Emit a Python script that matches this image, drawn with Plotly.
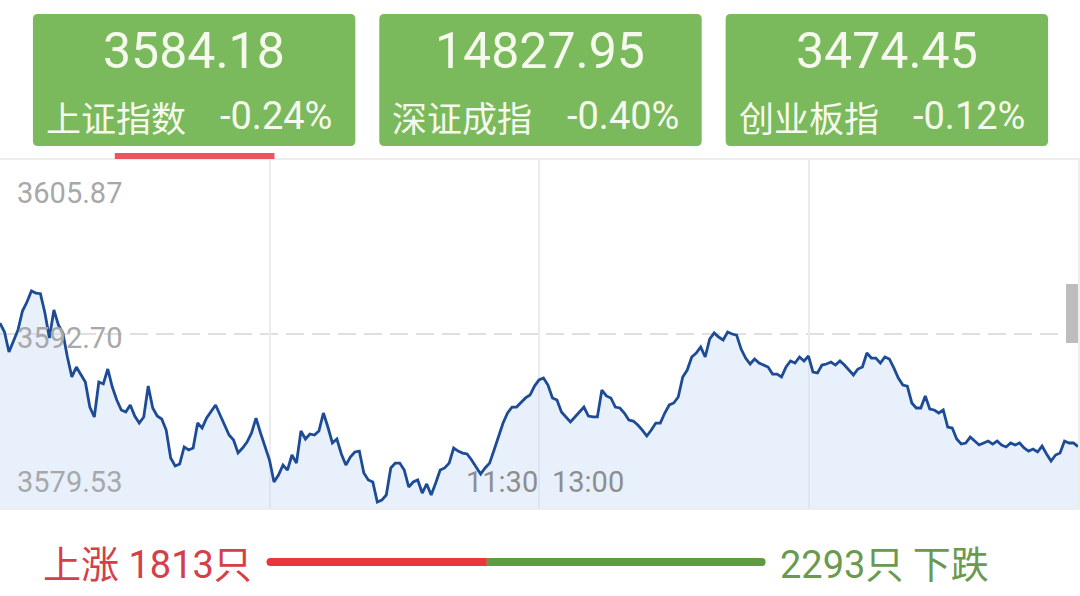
import plotly.graph_objects as go

W, H = 1080, 596

# ---------------- data ----------------
minutes = list(range(241))  # trading minutes from 09:30
prices = [
    3593.53, 3592.85, 3591.34, 3592.17, 3593.00, 3594.44, 3595.12, 3595.96, 3595.80, 3595.75,
    3594.29, 3592.40, 3594.52, 3593.38, 3592.78, 3590.96, 3589.45, 3590.20, 3589.60, 3589.07,
    3587.17, 3586.42, 3589.07, 3588.92, 3590.05, 3588.69, 3587.70, 3586.95, 3586.80, 3587.33,
    3586.49, 3585.96, 3586.42, 3588.76, 3587.10, 3586.49, 3586.27, 3585.43, 3583.31, 3582.71,
    3582.86, 3584.15, 3583.92, 3584.07, 3585.96, 3585.58, 3586.34, 3586.80, 3587.33, 3586.57,
    3585.81, 3585.05, 3584.68, 3583.70, 3584.07, 3584.52, 3585.21, 3586.34, 3585.21, 3584.15,
    3583.16, 3581.50, 3582.03, 3582.78, 3582.40, 3583.54, 3582.93, 3585.36, 3584.75, 3585.13,
    3585.05, 3585.36, 3586.72, 3585.66, 3584.45, 3584.75, 3583.62, 3582.78, 3583.39, 3583.77,
    3583.84, 3582.18, 3581.65, 3581.50, 3579.98, 3580.13, 3580.51, 3582.56, 3582.93, 3582.93,
    3582.40, 3581.12, 3581.50, 3581.65, 3580.66, 3581.35, 3580.51, 3581.42, 3582.40, 3582.56,
    3582.93, 3584.07, 3583.84, 3583.69, 3583.62, 3583.16, 3582.63, 3582.10, 3582.56, 3582.93,
    3583.92, 3584.90, 3585.96, 3586.72, 3587.17, 3587.17, 3587.55, 3587.86, 3588.08, 3588.76,
    3589.22, 3589.37, 3588.84, 3587.86, 3587.70, 3586.80, 3586.42, 3586.04, 3586.42, 3586.80,
    3587.17, 3586.49, 3586.42, 3586.42, 3588.46, 3588.01, 3587.86, 3587.17, 3587.10, 3586.72,
    3586.19, 3586.11, 3585.81, 3585.43, 3584.98, 3585.43, 3585.96, 3585.96, 3586.72, 3587.33,
    3587.48, 3587.93, 3589.45, 3589.97, 3590.96, 3591.26, 3591.72, 3590.96, 3592.32, 3592.78,
    3592.47, 3592.25, 3592.85, 3592.70, 3592.62, 3591.56, 3590.88, 3590.43, 3590.81, 3590.50,
    3590.35, 3590.20, 3589.67, 3589.67, 3589.45, 3590.20, 3590.66, 3590.50, 3590.96, 3590.66,
    3591.03, 3589.82, 3589.75, 3590.35, 3590.43, 3590.58, 3590.35, 3590.66, 3590.35, 3589.97,
    3589.60, 3590.05, 3590.20, 3591.26, 3590.88, 3590.88, 3590.50, 3590.96, 3590.81, 3590.13,
    3589.37, 3588.84, 3588.76, 3587.48, 3587.10, 3587.10, 3588.01, 3587.02, 3586.95, 3586.72,
    3586.95, 3585.66, 3585.58, 3584.75, 3584.37, 3584.45, 3584.90, 3584.60, 3584.30, 3584.45,
    3584.60, 3584.37, 3584.60, 3584.30, 3584.15, 3584.45, 3584.30, 3584.45, 3584.07, 3583.84,
    3583.99, 3583.77, 3584.22, 3583.62, 3583.09, 3583.54, 3583.69, 3584.60, 3584.45, 3584.45,
    3584.18,
]
prev_close = 3592.70
y_ticks = [3605.87, 3592.70, 3579.53]
y_tick_labels = ["3605.87", "3592.70", "3579.53"]
grid_minutes = [60, 120, 180]
break_minute = 120
time_labels = ["11:30", "13:00"]

index_names = ["上证指数", "深证成指", "创业板指"]
index_values = ["3584.18", "14827.95", "3474.45"]
index_changes = ["-0.24%", "-0.40%", "-0.12%"]

up_count = 1813
down_count = 2293

# ---------------- helpers (pixel -> paper) ----------------
def px(x):
    return x / W

def py(y):
    return 1 - y / H

def rrect_path(x0, y0, x1, y1, rl, rr):
    def p(x, y):
        return f"{px(x):.6f},{py(y):.6f}"
    s = f"M {p(x0 + rl, y0)} L {p(x1 - rr, y0)} "
    if rr > 0:
        s += f"Q {p(x1, y0)} {p(x1, y0 + rr)} L {p(x1, y1 - rr)} Q {p(x1, y1)} {p(x1 - rr, y1)} "
    else:
        s += f"L {p(x1, y0)} L {p(x1, y1)} "
    s += f"L {p(x0 + rl, y1)} "
    if rl > 0:
        s += f"Q {p(x0, y1)} {p(x0, y1 - rl)} L {p(x0, y0 + rl)} Q {p(x0, y0)} {p(x0 + rl, y0)} Z"
    else:
        s += f"L {p(x0, y1)} L {p(x0, y0)} Z"
    return s

NUM_FONT = "Roboto, 'Noto Sans CJK SC', sans-serif"
CJK_FONT = "'Noto Sans CJK SC', Roboto, sans-serif"

fig = go.Figure()
fig.add_trace(go.Scatter(
    x=minutes, y=prices, mode="lines",
    line=dict(color="#1d4b95", width=2.8),
    fill="tozeroy", fillcolor="rgba(205,222,248,0.45)",
    hoverinfo="skip", showlegend=False,
))

shapes = []
annotations = []

CH_TOP, CH_BOT = 160, 508

# previous close dashed line
shapes.append(dict(type="line", xref="paper", yref="y", x0=0, x1=1,
                   y0=prev_close, y1=prev_close, layer="below",
                   line=dict(color="#d6d6d6", width=1.5, dash="18px,8px")))

# y labels
y_shifts = [-33, -4, 26]
for v, lab, sh in zip(y_ticks, y_tick_labels, y_shifts):
    annotations.append(dict(xref="paper", yref="y", x=px(15), y=v, xanchor="left",
                            yanchor="middle", yshift=sh, showarrow=False, text=lab,
                            font=dict(family=NUM_FONT, size=29, color="#a8a8a8")))

# time labels at the lunch break
annotations.append(dict(xref="x", yref="paper", x=break_minute, y=py(482), xanchor="right",
                        yanchor="middle", xshift=1, showarrow=False, text=time_labels[0],
                        font=dict(family=NUM_FONT, size=29, color="#8e8e8e")))
annotations.append(dict(xref="x", yref="paper", x=break_minute, y=py(482), xanchor="left",
                        yanchor="middle", xshift=11, showarrow=False, text=time_labels[1],
                        font=dict(family=NUM_FONT, size=29, color="#8e8e8e")))

# index cards
card_x0 = [33, 380, 727]
card_w, card_y0, card_y1 = 323, 14, 146
for x0, name, val, chg in zip(card_x0, index_names, index_values, index_changes):
    shapes.append(dict(type="path", xref="paper", yref="paper",
                       path=rrect_path(x0, card_y0, x0 + card_w, card_y1, 5, 5),
                       fillcolor="#7bba5c", line=dict(width=0), layer="below"))
    annotations.append(dict(xref="paper", yref="paper", x=px(x0 + card_w / 2), y=py(51),
                            xanchor="center", yanchor="middle", showarrow=False, text=val,
                            font=dict(family=NUM_FONT, size=50, color="#f6f9ee")))
    annotations.append(dict(xref="paper", yref="paper", x=px(x0 + 11), y=py(116),
                            xanchor="left", yanchor="middle", showarrow=False, text=name,
                            font=dict(family=CJK_FONT, size=35, color="#f6f9ee")))
    annotations.append(dict(xref="paper", yref="paper", x=px(x0 + 302), y=py(116),
                            xanchor="right", yanchor="middle", showarrow=False, text=chg,
                            font=dict(family=NUM_FONT, size=38, color="#f6f9ee")))

# selected tab underline
shapes.append(dict(type="rect", xref="paper", yref="paper", x0=px(115), x1=px(275),
                   y0=py(159), y1=py(153), fillcolor="#ea5560", line=dict(width=0)))

# scrollbar remnant at right edge
shapes.append(dict(type="rect", xref="paper", yref="paper", x0=px(1068), x1=px(1080),
                   y0=py(343), y1=py(284), fillcolor="#bdbdbd", line=dict(width=0)))

# breadth bar
bx0, bx1, by0, by1 = 267, 767, 558, 566
split = bx0 + (bx1 - bx0) * up_count / (up_count + down_count)
shapes.append(dict(type="path", xref="paper", yref="paper",
                   path=rrect_path(bx0, by0, split, by1, 4, 0),
                   fillcolor="#e8383e", line=dict(width=0)))
shapes.append(dict(type="path", xref="paper", yref="paper",
                   path=rrect_path(split, by0, bx1, by1, 0, 4),
                   fillcolor="#5f9c40", line=dict(width=0)))
annotations.append(dict(xref="paper", yref="paper", x=px(41), y=py(565), xanchor="left",
                        yanchor="middle", showarrow=False, text=f"上涨 {up_count}只",
                        font=dict(family=NUM_FONT, size=38, color="#d4404a")))
annotations.append(dict(xref="paper", yref="paper", x=px(993), y=py(565), xanchor="right",
                        yanchor="middle", showarrow=False, text=f"{down_count}只 下跌",
                        font=dict(family=NUM_FONT, size=38, color="#6b9a4f")))

fig.update_layout(
    width=W, height=H,
    margin=dict(l=0, r=0, t=0, b=0),
    paper_bgcolor="white", plot_bgcolor="white",
    shapes=shapes, annotations=annotations,
    showlegend=False,
    xaxis=dict(range=[0, 240], domain=[0, 1], tickvals=grid_minutes, showticklabels=False,
               showgrid=True, gridcolor="#ebebeb", gridwidth=1.5, zeroline=False,
               showline=True, mirror=True, linecolor="#ededed", linewidth=1.5, fixedrange=True),
    yaxis=dict(range=[y_ticks[2], y_ticks[0]], domain=[py(CH_BOT), py(CH_TOP)],
               showticklabels=False, showgrid=False, zeroline=False,
               showline=True, mirror=True, linecolor="#ededed", linewidth=1.5, fixedrange=True),
)

fig.write_html("out.html", config={"displayModeBar": False},
               post_script="document.body.style.margin='0';document.body.style.overflow='hidden';")
